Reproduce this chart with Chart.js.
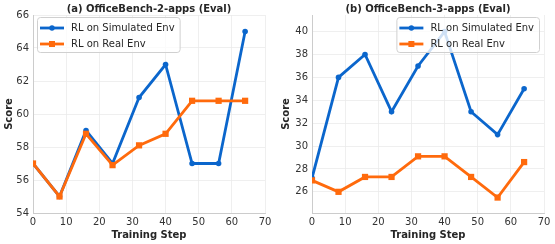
<!DOCTYPE html>
<html>
<head>
<meta charset="utf-8">
<script src="https://cdn.jsdelivr.net/npm/chart.js@4.4.1/dist/chart.umd.min.js"></script>
<style>
  html, body { margin: 0; padding: 0; background: #ffffff; }
  #wrap { position: relative; width: 555px; height: 244px; }
  .box { position: absolute; top: 0; height: 244px; }
  #boxA { left: 0; width: 277px; }
  #boxB { left: 277px; width: 278px; }
</style>
</head>
<body>
<div id="wrap">
  <div class="box" id="boxA"><canvas id="chartA"></canvas></div>
  <div class="box" id="boxB"><canvas id="chartB"></canvas></div>
</div>
<script>
// ---- Data ----
const steps = [0, 8, 16, 24, 32, 40, 48, 56, 64];
const seriesNames = ["RL on Simulated Env", "RL on Real Env"];
const titleA = "(a) OfficeBench-2-apps (Eval)";
const titleB = "(b) OfficeBench-3-apps (Eval)";
const simA  = [57, 55, 59, 57, 61, 63, 57, 57, 65];
const realA = [57, 55, 58.8, 56.9, 58.1, 58.8, 60.8, 60.8, 60.8];
const simB  = [27.2, 36, 38, 33, 37, 40, 33, 31, 35];
const realB = [27, 26, 27.3, 27.3, 29.1, 29.1, 27.3, 25.5, 28.6];
const xTicks  = [0, 10, 20, 30, 40, 50, 60, 70];
const yTicksA = [54, 56, 58, 60, 62, 64, 66];
const yTicksB = [26, 28, 30, 32, 34, 36, 38, 40];
const xLabel = "Training Step";
const yLabel = "Score";

const BLUE = "#0b66cc";
const ORANGE = "#ff6a0c";
const FONT = "'DejaVu Sans', sans-serif";

const legendPlugin = {
  id: 'boxLegend',
  afterDatasetsDraw(chart, args, opts) {
    const ctx = chart.ctx;
    const ca = chart.chartArea;
    ctx.save();
    ctx.font = "10px " + FONT;
    const ds = chart.data.datasets;
    let tw = 0;
    ds.forEach(d => { tw = Math.max(tw, ctx.measureText(d.label).width); });
    const w = 34 + tw + 5;
    const h = 35;
    const x0 = opts.align === 'right' ? ca.right - 5 - w : ca.left + 4;
    const y0 = ca.top + 2;
    ctx.beginPath();
    if (ctx.roundRect) ctx.roundRect(x0 + 0.5, y0 + 0.5, w, h, 3); else ctx.rect(x0 + 0.5, y0 + 0.5, w, h);
    ctx.fillStyle = "rgba(255,255,255,0.8)";
    ctx.fill();
    ctx.strokeStyle = "#d0d0d0";
    ctx.lineWidth = 1;
    ctx.stroke();
    ds.forEach((d, i) => {
      const yy = y0 + 11 + i * 16;
      ctx.strokeStyle = d.borderColor;
      ctx.lineWidth = 2.8;
      ctx.beginPath();
      ctx.moveTo(x0 + 3, yy);
      ctx.lineTo(x0 + 27, yy);
      ctx.stroke();
      ctx.fillStyle = d.borderColor;
      if (d.pointStyle === 'rect') {
        ctx.fillRect(x0 + 15 - 3, yy - 3, 6, 6);
      } else {
        ctx.beginPath();
        ctx.arc(x0 + 15, yy, 2.7, 0, Math.PI * 2);
        ctx.fill();
      }
      ctx.fillStyle = "#262626";
      ctx.textBaseline = "middle";
      ctx.textAlign = "left";
      ctx.fillText(d.label, x0 + 34, yy + 0.5);
    });
    ctx.restore();
  }
};

function makeChart(id, title, sim, real, yMin, yMax, yTicks, yWidth, padRight, legendAlign) {
  return new Chart(document.getElementById(id), {
    type: 'line',
    data: {
      datasets: [
        {
          label: seriesNames[0],
          data: steps.map((s, i) => ({ x: s, y: sim[i] })),
          borderColor: BLUE, backgroundColor: BLUE,
          borderWidth: 2.8, pointRadius: 2.8, pointStyle: 'circle',
          pointBorderWidth: 0, tension: 0, order: 1
        },
        {
          label: seriesNames[1],
          data: steps.map((s, i) => ({ x: s, y: real[i] })),
          borderColor: ORANGE, backgroundColor: ORANGE,
          borderWidth: 2.8, pointRadius: 4.4, pointStyle: 'rect',
          pointBorderWidth: 0, tension: 0, order: 0
        }
      ]
    },
    options: {
      responsive: true,
      maintainAspectRatio: false,
      animation: false,
      devicePixelRatio: 1,
      layout: { padding: { left: 0, right: padRight, top: 0, bottom: 0 } },
      plugins: {
        legend: { display: false },
        tooltip: { enabled: false },
        title: {
          display: true, text: title, fullSize: false,
          color: "#262626",
          font: { family: FONT, size: 10, weight: 'bold' },
          padding: { top: 3, bottom: 0 }
        },
        boxLegend: { align: legendAlign }
      },
      scales: {
        x: {
          type: 'linear', min: 0, max: 70,
          afterBuildTicks: s => { s.ticks = xTicks.map(v => ({ value: v })); },
          afterFit: s => { s.height = 31; },
          ticks: { color: "#333333", font: { family: FONT, size: 10 }, padding: 3, maxRotation: 0, autoSkip: false },
          grid: { color: "#ebebeb", lineWidth: 0.8, drawTicks: false },
          border: { color: "#cccccc", width: 1 },
          title: { display: true, text: xLabel, color: "#262626", font: { family: FONT, size: 10, weight: 'bold' }, padding: { top: 0, bottom: 3 } }
        },
        y: {
          type: 'linear', min: yMin, max: yMax,
          afterBuildTicks: s => { s.ticks = yTicks.map(v => ({ value: v })); },
          afterFit: s => { s.width = yWidth; },
          ticks: { color: "#333333", font: { family: FONT, size: 10 }, padding: 4, autoSkip: false },
          grid: { color: "#ebebeb", lineWidth: 0.8, drawTicks: false },
          border: { color: "#cccccc", width: 1 },
          title: { display: true, text: yLabel, color: "#262626", font: { family: FONT, size: 10, weight: 'bold' }, padding: { top: 3, bottom: 0 } }
        }
      }
    },
    plugins: [legendPlugin]
  });
}

makeChart('chartA', titleA, simA, realA, 54, 66, yTicksA, 33, 12, 'left');
makeChart('chartB', titleB, simB, realB, 24.15, 41.45, yTicksB, 35, 11, 'right');
</script>
</body>
</html>
